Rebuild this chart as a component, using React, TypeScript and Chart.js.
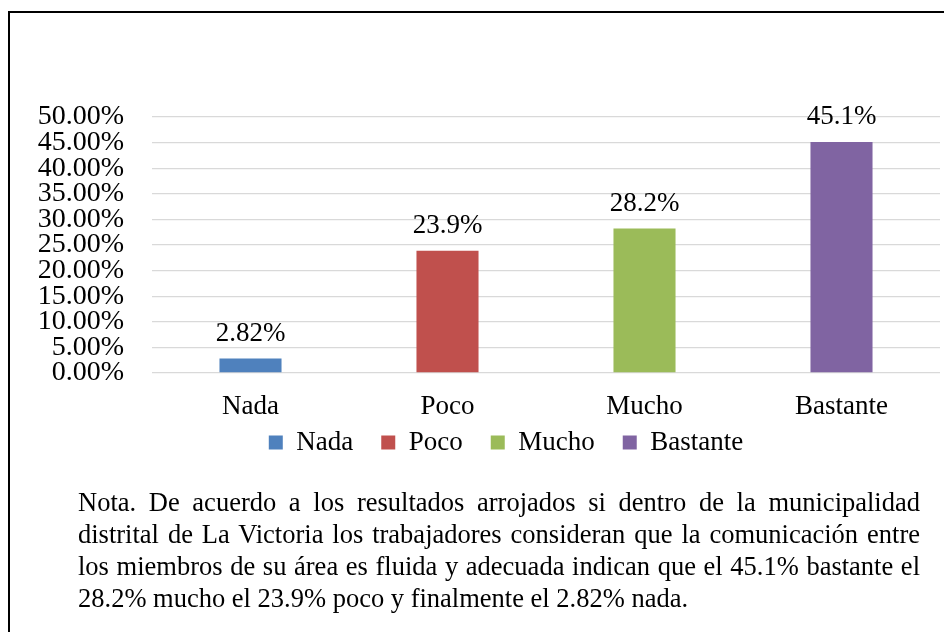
import React, { useEffect, useRef } from "react";
import { Chart, registerables } from "chart.js";

Chart.register(...registerables);

const categories = ["Nada", "Poco", "Mucho", "Bastante"];
const values = [0.0282, 0.239, 0.282, 0.451];
const valueLabels = ["2.82%", "23.9%", "28.2%", "45.1%"];
const colors = ["#4F81BD", "#C0504D", "#9BBB59", "#8064A2"];
const yMax = 0.5;
const yStep = 0.05;
const note =
  "Nota. De acuerdo a los resultados arrojados si dentro de la municipalidad distrital de La Victoria los trabajadores consideran que la comunicación entre los miembros de su área es fluida y adecuada indican que el 45.1% bastante el 28.2% mucho el 23.9% poco y finalmente el 2.82% nada.";

const FONT = "'Liberation Serif'";

const valueLabelPlugin = {
  id: "valueLabels",
  afterDatasetsDraw(chart: any) {
    const ctx = chart.ctx;
    const meta = chart.getDatasetMeta(0);
    ctx.save();
    ctx.font = `27px ${FONT}`;
    ctx.fillStyle = "#000";
    ctx.textAlign = "center";
    ctx.textBaseline = "alphabetic";
    meta.data.forEach((bar: any, i: number) => {
      ctx.fillText(valueLabels[i], bar.x, bar.y - 18);
    });
    ctx.restore();
  },
};

const LEGEND_DY = -22;
const LEGEND_DX = 31;

const legendShiftPlugin = {
  id: "legendShift",
  afterLayout(chart: any) {
    const lg = chart.legend;
    if (lg) {
      lg.top += LEGEND_DY;
      lg.bottom += LEGEND_DY;
      lg.left += LEGEND_DX;
      lg.right += LEGEND_DX;
    }
  },
};

export default function App() {
  const ref = useRef<HTMLCanvasElement>(null);

  useEffect(() => {
    document.body.style.overflow = "hidden";
    if (!ref.current) return;
    const chart = new Chart(ref.current, {
      type: "bar",
      data: {
        labels: categories,
        datasets: [
          {
            label: "Serie",
            data: values,
            backgroundColor: colors,
            borderWidth: 0,
            categoryPercentage: 1,
            barPercentage: 0.315,
          },
        ],
      },
      options: {
        animation: false,
        responsive: true,
        maintainAspectRatio: false,
        events: [],
        layout: { padding: { top: 104, right: 12, left: 0, bottom: 0 } },
        plugins: {
          tooltip: { enabled: false },
          legend: {
            display: true,
            position: "bottom",
            labels: {
              boxWidth: 14,
              boxHeight: 14,
              padding: 28,
              color: "#000",
              font: { family: FONT, size: 27 },
              generateLabels: () =>
                categories.map((c, i) => ({
                  text: c,
                  fillStyle: colors[i],
                  strokeStyle: colors[i],
                  lineWidth: 0,
                  hidden: false,
                  index: i,
                  datasetIndex: 0,
                })),
            },
          },
        },
        scales: {
          x: {
            grid: { display: false },
            border: { display: false },
            ticks: {
              color: "#000",
              font: { family: FONT, size: 27 },
              padding: 10,
            },
            afterFit: (scale: any) => {
              scale.height = 50;
            },
          },
          y: {
            min: 0,
            max: yMax,
            grid: { color: "#D9D9D9", lineWidth: 1.3, drawTicks: false },
            border: { display: false },
            ticks: {
              stepSize: yStep,
              autoSkip: false,
              color: "#000",
              padding: 28,
              font: { family: FONT, size: 28 },
              callback: (v: any) => (Number(v) * 100).toFixed(2) + "%",
            },
            afterFit: (scale: any) => {
              scale.width = 142;
            },
          },
        },
      },
      plugins: [valueLabelPlugin, legendShiftPlugin],
    });
    return () => chart.destroy();
  }, []);

  return (
    <div style={{ position: "relative", width: 944, height: 624, overflow: "hidden" }}>
      <div
        style={{
          position: "absolute",
          left: 0,
          top: 3,
          width: 1200,
          height: 1000,
          borderLeft: "2px solid #000",
          borderTop: "2px solid #000",
        }}
      >
        <div style={{ position: "absolute", left: 0, top: 0, width: 942, height: 475 }}>
          <canvas ref={ref} />
        </div>
        <p
          style={{
            position: "absolute",
            left: 68,
            top: 473,
            width: 842,
            margin: 0,
            fontFamily: FONT,
            fontSize: 26.5,
            lineHeight: "32px",
            textAlign: "justify",
            color: "#000",
          }}
        >
          {note}
        </p>
      </div>
    </div>
  );
}
